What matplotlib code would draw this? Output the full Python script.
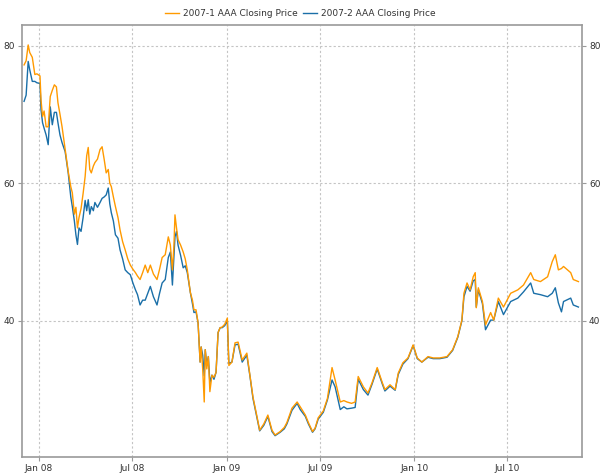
import matplotlib
matplotlib.use("Agg")
import matplotlib.pyplot as plt
import matplotlib.dates as mdates
import pandas as pd

# Observation dates shared by both tranches
dates = [
    "2007-12-03", "2007-12-07", "2007-12-11", "2007-12-14", "2007-12-19", "2007-12-24",
    "2007-12-28", "2008-01-03", "2008-01-05", "2008-01-08", "2008-01-11", "2008-01-15",
    "2008-01-19", "2008-01-23", "2008-01-27", "2008-01-31", "2008-02-04", "2008-02-07",
    "2008-02-11", "2008-02-15", "2008-02-21", "2008-02-27", "2008-03-03", "2008-03-06",
    "2008-03-10", "2008-03-13", "2008-03-16", "2008-03-19", "2008-03-23", "2008-03-27",
    "2008-03-31", "2008-04-03", "2008-04-06", "2008-04-09", "2008-04-12", "2008-04-16",
    "2008-04-19", "2008-04-24", "2008-04-29", "2008-05-03", "2008-05-07", "2008-05-11",
    "2008-05-15", "2008-05-18", "2008-05-21", "2008-05-25", "2008-05-29", "2008-06-03",
    "2008-06-07", "2008-06-12", "2008-06-17", "2008-06-22", "2008-06-27", "2008-07-02",
    "2008-07-07", "2008-07-11", "2008-07-16", "2008-07-21", "2008-07-26", "2008-07-31",
    "2008-08-05", "2008-08-11", "2008-08-18", "2008-08-23", "2008-08-28", "2008-09-03",
    "2008-09-09", "2008-09-13", "2008-09-17", "2008-09-20", "2008-09-22", "2008-09-25",
    "2008-09-28", "2008-10-03", "2008-10-08", "2008-10-12", "2008-10-16", "2008-10-22",
    "2008-10-26", "2008-10-29", "2008-11-02", "2008-11-06", "2008-11-10", "2008-11-12",
    "2008-11-15", "2008-11-18", "2008-11-20", "2008-11-23", "2008-11-26", "2008-11-29",
    "2008-12-03", "2008-12-07", "2008-12-11", "2008-12-15", "2008-12-19", "2008-12-23",
    "2008-12-28", "2009-01-02", "2009-01-05", "2009-01-11", "2009-01-17", "2009-01-23",
    "2009-01-31", "2009-02-09", "2009-02-15", "2009-02-21", "2009-03-01", "2009-03-06",
    "2009-03-14", "2009-03-22", "2009-03-30", "2009-04-05", "2009-04-15", "2009-04-23",
    "2009-04-28", "2009-05-08", "2009-05-18", "2009-05-24", "2009-06-03", "2009-06-09",
    "2009-06-17", "2009-06-22", "2009-06-28", "2009-07-08", "2009-07-16", "2009-07-25",
    "2009-07-31", "2009-08-10", "2009-08-17", "2009-08-23", "2009-09-01", "2009-09-08",
    "2009-09-14", "2009-09-24", "2009-10-03", "2009-10-11", "2009-10-21", "2009-10-31",
    "2009-11-05", "2009-11-15", "2009-11-25", "2009-12-01", "2009-12-10", "2009-12-20",
    "2009-12-30", "2010-01-07", "2010-01-16", "2010-01-28", "2010-02-07", "2010-02-20",
    "2010-03-06", "2010-03-17", "2010-03-27", "2010-04-04", "2010-04-08", "2010-04-14",
    "2010-04-20", "2010-04-26", "2010-04-30", "2010-05-02", "2010-05-06", "2010-05-14",
    "2010-05-20", "2010-05-30", "2010-06-05", "2010-06-14", "2010-06-24", "2010-07-08",
    "2010-07-22", "2010-08-02", "2010-08-16", "2010-08-22", "2010-09-04", "2010-09-18",
    "2010-09-27", "2010-10-03", "2010-10-09", "2010-10-15", "2010-10-19", "2010-11-02",
    "2010-11-07", "2010-11-17",
]

# 2007-1 AAA closing prices
price_2007_1 = [
    77.2, 77.8, 80.1, 79.0, 78.3, 75.8,
    75.9, 75.6, 72.1, 69.7, 70.5, 68.2,
    68.2, 72.6, 73.5, 74.3, 74.0, 71.7,
    70.0, 68.2, 64.9, 61.7, 59.5, 58.6,
    55.5, 56.5, 53.5, 55.0, 56.3, 58.5,
    61.0, 64.0, 65.2, 62.0, 61.5, 62.5,
    63.0, 63.5, 64.9, 65.3, 63.5, 61.5,
    62.0, 60.0, 59.5, 58.0, 56.6, 55.0,
    53.2, 51.5, 50.3, 49.0, 48.1, 47.5,
    47.0, 46.5, 46.0, 47.0, 48.1, 47.0,
    48.1, 46.8, 46.0, 47.5, 49.2, 49.6,
    52.2, 51.0, 47.4, 51.0, 55.4, 53.5,
    51.8, 51.0, 50.0, 49.0, 47.4, 44.1,
    43.0, 41.6, 41.6, 39.7, 34.0, 36.2,
    33.0, 28.2, 35.8, 33.0, 34.8, 29.7,
    32.1, 31.8, 32.5, 38.3, 39.0, 39.1,
    39.5, 40.4, 33.5, 34.0, 36.8, 36.9,
    34.3, 35.3, 32.1, 28.9, 26.0, 24.1,
    25.0, 26.3, 24.1, 23.4, 23.9, 24.5,
    25.2, 27.3, 28.2, 27.5, 26.3, 25.2,
    23.9, 24.4, 25.9, 26.9, 28.7, 33.2,
    31.4, 28.2, 28.4, 28.2, 28.0, 28.2,
    31.9, 30.4, 29.5, 31.0, 33.2, 31.0,
    30.0, 30.7, 30.0, 32.4, 33.9, 34.6,
    36.5, 34.6, 34.0, 34.8, 34.6, 34.6,
    34.8, 35.8, 37.7, 40.1, 44.0, 45.5,
    44.5, 46.4, 47.0, 41.9, 44.8, 42.8,
    39.4, 41.2, 40.1, 43.3, 42.0, 44.0,
    44.5, 45.2, 47.0, 46.0, 45.7, 46.4,
    48.6, 49.6, 47.4, 47.6, 47.9, 47.0,
    46.0, 45.7,
]

# 2007-2 AAA closing prices
price_2007_2 = [
    71.9, 72.8, 77.7, 76.5, 74.8, 74.8,
    74.6, 74.5, 70.7, 68.8, 68.0, 67.0,
    65.6, 71.1, 68.5, 70.3, 70.3, 68.8,
    67.0, 65.9, 64.6, 61.5, 58.0, 56.6,
    54.5, 52.5, 51.1, 53.5, 53.0, 55.0,
    57.5, 56.0, 57.6, 55.5, 56.6, 56.0,
    57.2, 56.5, 57.2, 57.8, 58.0, 58.3,
    59.3, 57.0, 55.7, 54.5, 52.5, 52.0,
    50.3, 49.0, 47.4, 47.0, 46.7, 45.5,
    44.5, 43.8, 42.3, 43.0, 43.0, 44.0,
    45.0, 43.5, 42.3, 44.0, 45.5, 46.0,
    49.2, 50.0, 45.2, 49.5, 52.2, 53.0,
    51.0, 49.5, 47.7, 48.0, 47.0, 44.1,
    42.5, 41.2, 41.3, 39.7, 34.0, 36.2,
    35.0, 32.0, 35.8, 33.5, 34.8, 31.0,
    32.1, 31.5, 32.5, 38.3, 39.0, 39.0,
    39.3, 40.0, 33.8, 34.0, 36.5, 36.6,
    34.0, 35.0, 32.0, 28.7, 25.8, 24.0,
    24.8, 26.1, 23.9, 23.3, 23.8, 24.3,
    25.0, 27.0, 28.0, 27.1, 26.1, 25.0,
    23.8, 24.3, 25.7, 26.7, 28.5, 31.4,
    30.4, 27.1, 27.5, 27.2, 27.3, 27.4,
    31.5, 30.0, 29.2, 30.8, 33.0, 30.8,
    29.8, 30.5, 29.9, 32.2, 33.7, 34.5,
    36.4, 34.5, 34.0, 34.7, 34.5, 34.5,
    34.7, 35.7, 37.6, 40.0, 43.5, 45.0,
    44.3, 45.8, 46.0, 42.0, 44.5, 42.5,
    38.7, 40.1, 40.1, 42.8, 40.9, 42.8,
    43.3, 44.2, 45.5, 44.0, 43.8, 43.5,
    44.0, 44.8, 42.6, 41.3, 42.8, 43.3,
    42.3, 42.0,
]

series_names = ["2007-1 AAA Closing Price", "2007-2 AAA Closing Price"]
series_colors = ["#ff9a00", "#1a6fa8"]

y_ticks = [40, 60, 80]

x = pd.to_datetime(dates)

fig = plt.figure(figsize=(6.0, 4.76), dpi=100)
ax = fig.add_axes([0.0367, 0.0399, 0.9333, 0.9076])

ax.plot(x, price_2007_2, color=series_colors[1], lw=1.0, label=series_names[1], zorder=3)
ax.plot(x, price_2007_1, color=series_colors[0], lw=1.0, label=series_names[0], zorder=4)

ax.set_xlim(pd.Timestamp("2007-11-29"), pd.Timestamp("2010-11-24"))
ax.set_ylim(20.2, 83.0)

ax.set_yticks(y_ticks)
ax.xaxis.set_major_locator(mdates.MonthLocator(bymonth=[1, 7]))
ax.xaxis.set_major_formatter(mdates.DateFormatter("%b %y"))

ax.grid(True, color="#c4c4c4", linestyle=(0, (2, 2)), linewidth=0.8)
ax.set_axisbelow(True)

for sp in ax.spines.values():
    sp.set_color("#9a9a9a")
    sp.set_linewidth(1.2)

ax.tick_params(axis="both", direction="out", length=3, width=0.8, color="#9a9a9a",
               labelsize=6.5, labelcolor="#333333", pad=2)
ax.tick_params(axis="y", left=True, right=True, labelleft=True, labelright=True)

handles, labels = ax.get_legend_handles_labels()
order = [1, 0]
fig.legend([handles[i] for i in order], [labels[i] for i in order],
           loc="center", bbox_to_anchor=(0.5, 0.972), ncol=2, frameon=False,
           fontsize=6.5, handlelength=1.6, handletextpad=0.4, columnspacing=0.6,
           borderaxespad=0, labelcolor="#333333")

fig.savefig("out.png", dpi=100)
